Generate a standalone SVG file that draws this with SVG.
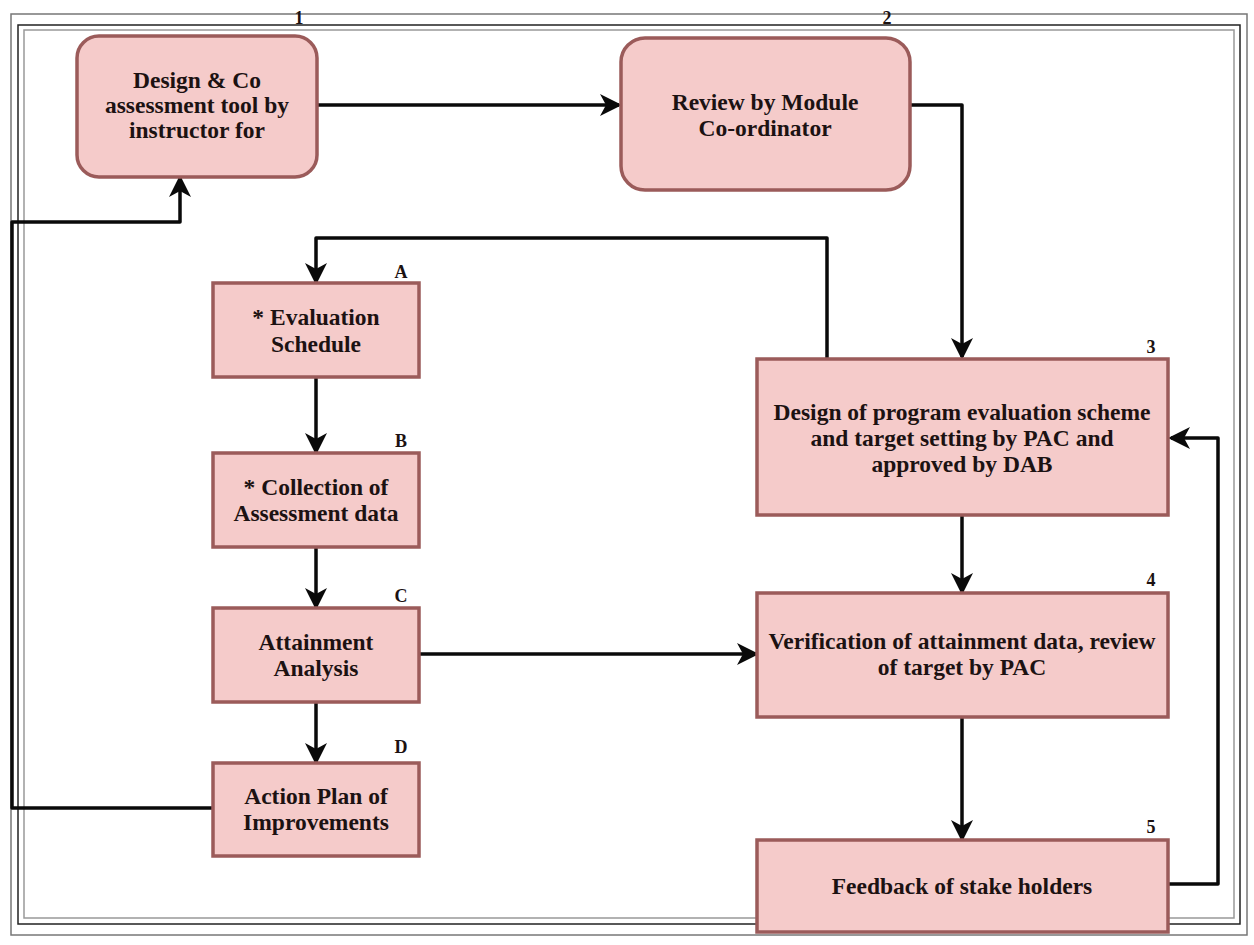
<svg xmlns="http://www.w3.org/2000/svg" width="1254" height="945" viewBox="0 0 1254 945">
<style>
.box{fill:#f5cbca;stroke:#9b5b5a;stroke-width:3.5}
.t{font-family:"Liberation Serif","Times New Roman",serif;font-weight:bold;font-size:23.5px;fill:#1c1212;text-anchor:middle}
.lbl{font-family:"Liberation Serif","Times New Roman",serif;font-weight:bold;font-size:18px;fill:#1c1212;text-anchor:middle}
.c{fill:none;stroke:#0a0a0a;stroke-width:3.5;stroke-linejoin:round}
.frame{fill:none;stroke-width:1.5}
</style>
<defs>
<marker id="ah" markerUnits="userSpaceOnUse" markerWidth="24" markerHeight="24" refX="19" refY="11" orient="auto" viewBox="0 0 24 24">
<path d="M0,0 L22,11 L0,22 L6,11 Z" fill="#0a0a0a"/>
</marker>
</defs>
<rect width="1254" height="945" fill="#ffffff"/>
<g id="frame">
<rect class="frame" x="11" y="14" width="1236" height="921" stroke="#777"/>
<rect class="frame" x="18" y="25" width="1222" height="899" stroke="#222"/>
<rect class="frame" x="24" y="30" width="1210" height="888" stroke="#999" stroke-width="1"/>
</g>
<g id="connectors">
<path class="c" d="M317,105 H619" marker-end="url(#ah)"/>
<path class="c" d="M910,105 H962 V357" marker-end="url(#ah)"/>
<path class="c" d="M827,358 V238 H316 V282" marker-end="url(#ah)"/>
<path class="c" d="M316,377 V452" marker-end="url(#ah)"/>
<path class="c" d="M316,547 V607" marker-end="url(#ah)"/>
<path class="c" d="M316,702 V762" marker-end="url(#ah)"/>
<path class="c" d="M420,654 H756" marker-end="url(#ah)"/>
<path class="c" d="M962,515 V592" marker-end="url(#ah)"/>
<path class="c" d="M962,717 V839" marker-end="url(#ah)"/>
<path class="c" d="M1168,884 H1218 V438 H1171" marker-end="url(#ah)"/>
<path class="c" d="M213,808 H12 V222 H180 V178" marker-end="url(#ah)"/>
</g>
<g id="node1">
<rect class="box" x="77" y="36" width="240" height="141" rx="22"/>
<text class="t" x="197" y="88">Design &amp; Co</text>
<text class="t" x="197" y="113">assessment tool by</text>
<text class="t" x="197" y="138">instructor for</text>
<text class="lbl" x="299" y="24">1</text>
</g>
<g id="node2">
<rect class="box" x="621" y="38" width="289" height="152" rx="24"/>
<text class="t" x="765" y="110">Review by Module</text>
<text class="t" x="765" y="136">Co-ordinator</text>
<text class="lbl" x="887" y="24">2</text>
</g>
<g id="nodeA">
<rect class="box" x="213" y="283" width="206" height="94"/>
<text class="t" x="316" y="325">* Evaluation</text>
<text class="t" x="316" y="352">Schedule</text>
<text class="lbl" x="401" y="278">A</text>
</g>
<g id="nodeB">
<rect class="box" x="213" y="453" width="206" height="94"/>
<text class="t" x="316" y="495">* Collection of</text>
<text class="t" x="316" y="521">Assessment data</text>
<text class="lbl" x="401" y="447">B</text>
</g>
<g id="nodeC">
<rect class="box" x="213" y="608" width="206" height="94"/>
<text class="t" x="316" y="650">Attainment</text>
<text class="t" x="316" y="676">Analysis</text>
<text class="lbl" x="401" y="602">C</text>
</g>
<g id="nodeD">
<rect class="box" x="213" y="763" width="206" height="93"/>
<text class="t" x="316" y="804">Action Plan of</text>
<text class="t" x="316" y="830">Improvements</text>
<text class="lbl" x="401" y="753">D</text>
</g>
<g id="node3">
<rect class="box" x="757" y="359" width="411" height="156"/>
<text class="t" x="962" y="420">Design of program evaluation scheme</text>
<text class="t" x="962" y="446">and target setting by PAC and</text>
<text class="t" x="962" y="472">approved by DAB</text>
<text class="lbl" x="1151" y="353">3</text>
</g>
<g id="node4">
<rect class="box" x="757" y="593" width="411" height="124"/>
<text class="t" x="962" y="649">Verification of attainment data, review</text>
<text class="t" x="962" y="675">of target by PAC</text>
<text class="lbl" x="1151" y="586">4</text>
</g>
<g id="node5">
<rect class="box" x="757" y="840" width="411" height="92"/>
<text class="t" x="962" y="894">Feedback of stake holders</text>
<text class="lbl" x="1151" y="833">5</text>
</g>
</svg>
